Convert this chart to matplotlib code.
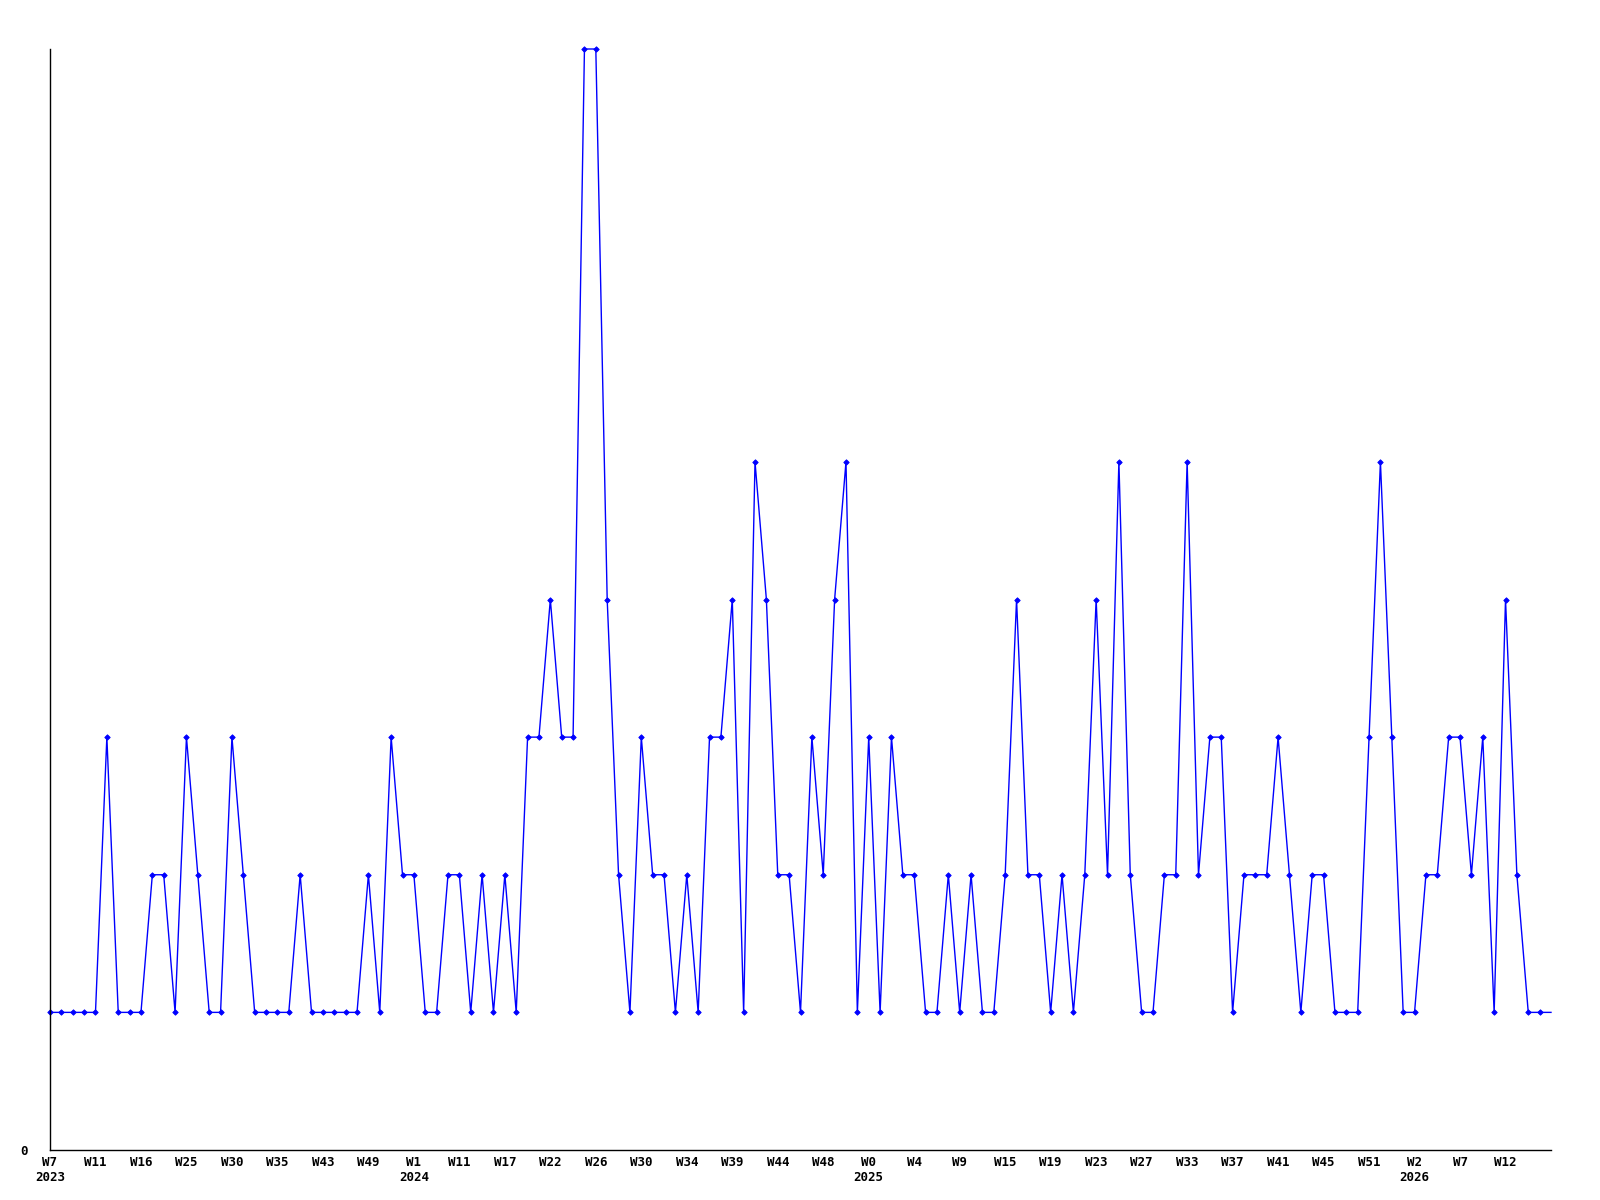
import matplotlib
matplotlib.use("Agg")
import matplotlib.pyplot as plt

# weekly counts, one per week slot (last slot sits on the right edge)
values = [
    1, 1, 1, 1, 1, 3, 1, 1, 1, 2, 2, 1, 3, 2, 1, 1, 3, 2, 1, 1,
    1, 1, 2, 1, 1, 1, 1, 1, 2, 1, 3, 2, 2, 1, 1, 2, 2, 1, 2, 1,
    2, 1, 3, 3, 4, 3, 3, 8, 8, 4, 2, 1, 3, 2, 2, 1, 2, 1, 3, 3,
    4, 1, 5, 4, 2, 2, 1, 3, 2, 4, 5, 1, 3, 1, 3, 2, 2, 1, 1, 2,
    1, 2, 1, 1, 2, 4, 2, 2, 1, 2, 1, 2, 4, 2, 5, 2, 1, 1, 2, 2,
    5, 2, 3, 3, 1, 2, 2, 2, 3, 2, 1, 2, 2, 1, 1, 1, 3, 5, 3, 1,
    1, 2, 2, 3, 3, 2, 3, 1, 4, 2, 1, 1, 1,
]

# one label every 4 slots
week_labels = [
    "W7", "W11", "W16", "W25", "W30", "W35", "W43", "W49", "W1", "W11", "W17",
    "W22", "W26", "W30", "W34", "W39", "W44", "W48", "W0", "W4", "W9", "W15",
    "W19", "W23", "W27", "W33", "W37", "W41", "W45", "W51", "W2", "W7", "W12",
]
year_marks = {0: "2023", 8: "2024", 18: "2025", 30: "2026"}
label_step = 4

font = ["DejaVu Sans Mono"]

fig = plt.figure(figsize=(16, 12), dpi=100)
ax = fig.add_axes([50 / 1600, 50 / 1200, (1551 - 50) / 1600, (1150 - 49) / 1200])

x = list(range(len(values)))
ax.plot(x, values, color="#0000ff", linewidth=1.0, clip_on=False)
# the last slot is the right edge of the axis: line only, no marker
ax.plot(x[:-1], values[:-1], linestyle="none", marker="D", markersize=2.8,
        markeredgewidth=0.6, markerfacecolor="#0000ff", markeredgecolor="#0000ff",
        clip_on=False)

ax.set_xlim(0, len(values) - 1)
ax.set_ylim(0, 8)

ticks = [i * label_step for i in range(len(week_labels))]
labels = []
for i, w in enumerate(week_labels):
    labels.append(w + ("\n" + year_marks[i] if i in year_marks else ""))
ax.set_xticks(ticks)
ax.set_xticklabels(labels, family=font, fontsize=9, fontweight="bold",
                   linespacing=1.25, ha="center")
ax.set_yticks([0])
ax.set_yticklabels(["0"], family=font, fontsize=9, fontweight="bold")
ax.tick_params(axis="x", length=0, pad=4)
ax.tick_params(axis="y", length=0, pad=16)

for side in ("top", "right"):
    ax.spines[side].set_visible(False)
for side in ("left", "bottom"):
    ax.spines[side].set_color("black")
    ax.spines[side].set_linewidth(1.0)

fig.savefig("out.png", dpi=100, facecolor="white")
